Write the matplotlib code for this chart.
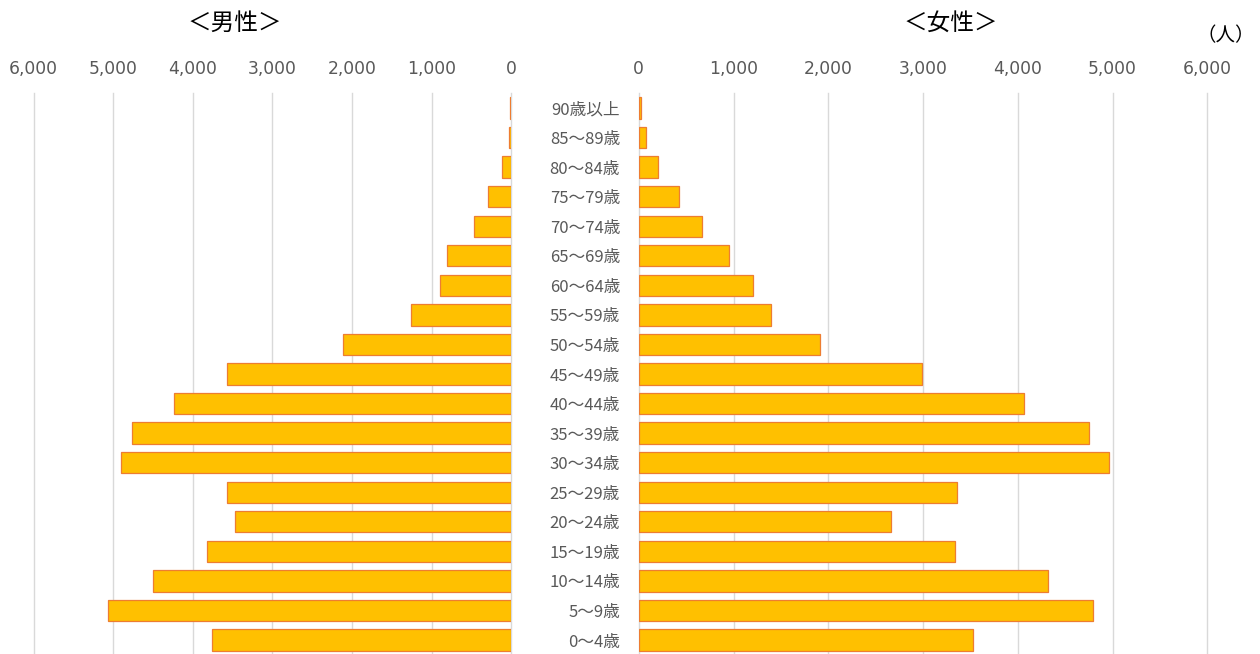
import matplotlib
matplotlib.use("Agg")
import matplotlib.pyplot as plt
from matplotlib.ticker import FuncFormatter

age_groups = ["90歳以上", "85～89歳", "80～84歳", "75～79歳", "70～74歳", "65～69歳",
              "60～64歳", "55～59歳", "50～54歳", "45～49歳", "40～44歳", "35～39歳",
              "30～34歳", "25～29歳", "20～24歳", "15～19歳", "10～14歳", "5～9歳", "0～4歳"]
male = [22, 25, 113, 292, 471, 804, 896, 1255, 2111, 3571, 4230, 4768, 4896, 3571,
        3467, 3821, 4501, 5070, 3754]
female = [26, 78, 198, 422, 663, 947, 1202, 1395, 1908, 2985, 4066, 4755, 4966, 3359,
          2657, 3333, 4320, 4798, 3527]
ticks = [0, 1000, 2000, 3000, 4000, 5000, 6000]

W, H = 1260, 654
fig = plt.figure(figsize=(W / 100, H / 100), dpi=100)

top_px, bot_px = 93.2, 654.8
def rect(x0, x1):
    return [x0 / W, 1 - bot_px / H, (x1 - x0) / W, (bot_px - top_px) / H]

ax_m = fig.add_axes(rect(33.5, 511.4))
ax_f = fig.add_axes(rect(638.8, 1207.3))

n = len(age_groups)
ypos = [n - 1 - i for i in range(n)]
fill = "#FFC000"
edge = "#ED7D31"
tick_color = "#595959"
num_font = "DejaVu Sans"
cjk = ["Noto Sans CJK JP", "DejaVu Sans"]

for ax, vals in ((ax_m, male), (ax_f, female)):
    ax.barh(ypos, vals, height=0.72, color=fill, edgecolor=edge, linewidth=0.9, zorder=3)
    ax.set_xlim(0, 6000)
    ax.set_ylim(-0.5, n - 0.5)
    ax.set_xticks(ticks)
    ax.xaxis.set_major_formatter(FuncFormatter(lambda v, p: f"{int(v):,}"))
    ax.xaxis.tick_top()
    ax.tick_params(axis="x", length=0, pad=11, labelsize=12.3, labelcolor=tick_color)
    for lab in ax.get_xticklabels():
        lab.set_fontfamily(num_font)
    ax.grid(axis="x", color="#D9D9D9", linewidth=1.0, zorder=0)
    for gl in ax.xaxis.get_gridlines():
        gl.set_clip_on(False)
    for s in ax.spines.values():
        s.set_visible(False)

ax_m.invert_xaxis()
ax_m.set_yticks([])

ax_f.set_yticks(ypos)
ax_f.set_yticklabels(age_groups, fontfamily=cjk, fontsize=12, color=tick_color)
ax_f.tick_params(axis="y", length=0, pad=13.5)

fig.text(235 / W, 1 - 23 / H, "＜男性＞", ha="center", va="center", fontsize=17,
         fontfamily=cjk, color="#000000")
fig.text(951 / W, 1 - 23 / H, "＜女性＞", ha="center", va="center", fontsize=17,
         fontfamily=cjk, color="#000000")
fig.text(1226 / W, 1 - 36 / H, "（人）", ha="center", va="center", fontsize=14,
         fontfamily=cjk, color="#000000")

fig.savefig("out.png", dpi=100)
